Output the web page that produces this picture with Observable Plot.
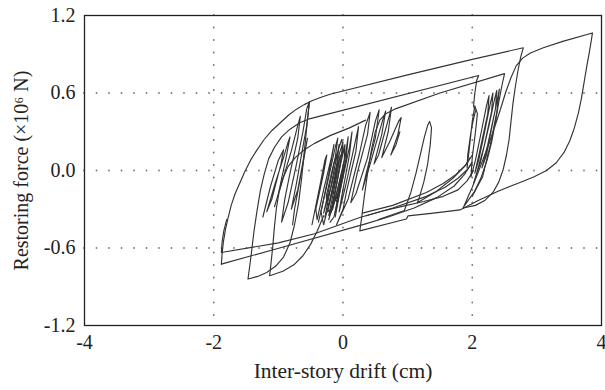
<!DOCTYPE html>
<html>
<head>
<meta charset="utf-8">
<script src="https://cdn.jsdelivr.net/npm/d3@7"></script>
<script src="https://cdn.jsdelivr.net/npm/@observablehq/plot@0.6"></script>
<style>
  html, body { margin: 0; padding: 0; background: #fff; }
  #chart svg, #chart svg text { font-family: "Liberation Serif", "DejaVu Serif", serif !important; }
  #chart g[aria-label="x-axis label"] text { font-size: 21.5px; }
</style>
</head>
<body>
<div id="chart"></div>
<script>
// Axis ticks
const xTicks = [-4, -2, 0, 2, 4];
const yTicks = [-1.2, -0.6, 0.0, 0.6, 1.2];
const xGrid = [-2, 0, 2];
const yGrid = [-0.6, 0.0, 0.6];

// Hysteresis branches: [drift (cm), restoring force (10^6 N)]
// Outer loop: negative backbone, upper branch to +2.8 cm, unloading
const envelopeCycle = [
  [-1.882,-0.725],[-1.87,-0.64],[-1.85,-0.55],[-1.82,-0.46],[-1.78,-0.37],[-1.73,-0.27],[-1.67,-0.18],
  [-1.60,-0.10],[-1.52,-0.01],[-1.43,0.08],[-1.33,0.16],[-1.22,0.24],[-1.10,0.31],[-0.97,0.37],
  [-0.84,0.43],[-0.72,0.475],[-0.60,0.51],[-0.48,0.54],[-0.35,0.565],[-0.20,0.59],[0.00,0.615],
  [1.00,0.74],[2.00,0.86],[2.79,0.95],
  [2.75,0.88],[2.71,0.78],[2.67,0.66],[2.63,0.52],[2.60,0.38],[2.57,0.24],[2.53,0.12],[2.48,0.01],
  [2.41,-0.09],[2.32,-0.17],[2.20,-0.23],[2.05,-0.27],[1.86,-0.29]
];
// Largest excursion to +3.9 cm, then back along the lower branch
const peakCycle = [
  [1.86,-0.29],[1.92,-0.22],[2.00,-0.13],[2.08,-0.03],[2.17,0.09],[2.26,0.21],[2.35,0.34],[2.44,0.48],
  [2.52,0.61],[2.60,0.72],[2.68,0.81],[2.78,0.87],[2.90,0.91],[3.10,0.95],[3.40,1.00],[3.86,1.065],
  [3.84,1.00],[3.81,0.91],[3.77,0.80],[3.73,0.68],[3.69,0.56],[3.64,0.44],[3.58,0.33],[3.51,0.23],
  [3.42,0.14],[3.30,0.06],[3.15,0.00],[2.95,-0.05],[2.70,-0.10],[2.40,-0.16],[2.10,-0.23],
  [1.81,-0.305],[1.40,-0.33],[1.006,-0.351],[0.995,-0.363],[0.98,-0.376],[0.26,-0.467],
  [0.29,-0.36],[0.33,-0.20],[0.38,-0.02],[0.44,0.16],[0.50,0.30],[0.57,0.39],[0.66,0.44],[0.80,0.475],
  [1.50,0.60],[2.50,0.75],
  [2.46,0.66],[2.41,0.53],[2.36,0.38],[2.30,0.22],[2.23,0.08],[2.14,-0.05],[2.04,-0.16],[1.86,-0.285]
];
// Second negative excursion (-1.47 cm) and its upper branch
const secondCycle = [
  [-0.52,0.53],[-0.56,0.34],[-0.60,0.14],[-0.64,-0.06],[-0.69,-0.26],[-0.75,-0.42],[-0.82,-0.56],
  [-0.92,-0.67],[-1.04,-0.74],[-1.18,-0.79],[-1.32,-0.82],[-1.47,-0.84],
  [-1.42,-0.65],[-1.38,-0.48],[-1.33,-0.31],[-1.28,-0.16],[-1.22,-0.03],[-1.15,0.09],[-1.06,0.18],
  [-0.95,0.26],[-0.82,0.32],[-0.67,0.37],[-0.52,0.40],[-0.40,0.415],[2.10,0.735],
  [2.07,0.70],[2.04,0.60],[2.02,0.50],[2.05,0.46],[2.02,0.40]
];
// Third negative excursion (-1.14 cm)
const thirdCycle = [
  [-0.30,-0.35],[-0.40,-0.47],[-0.50,-0.57],[-0.62,-0.66],[-0.76,-0.73],[-0.93,-0.78],[-1.135,-0.815],
  [-1.11,-0.70],[-1.085,-0.58],[-1.06,-0.43],[-1.03,-0.29],[-0.99,-0.17],[-0.93,-0.06],[-0.85,0.03],
  [-0.74,0.10],[-0.60,0.16],[-0.44,0.21],[-0.20,0.27],[0.10,0.33],[0.35,0.39]
];
// Lower branches returning to the -1.9 cm corners
const lowerBranchA = [
  [1.99,0.06],[1.88,-0.03],[1.72,-0.12],[1.45,-0.21],[1.10,-0.29],[0.70,-0.36],[0.336,-0.415],
  [-0.954,-0.596],[-1.882,-0.725]
];
const lowerBranchB = [
  [2.02,0.00],[1.92,-0.08],[1.78,-0.15],[1.55,-0.20],[1.25,-0.24],[0.90,-0.28],[0.60,-0.315],[0.26,-0.364],
  [-0.44,-0.49],[-1.00,-0.56],[-1.882,-0.635],[-1.87,-0.55],[-1.845,-0.47],[-1.80,-0.38]
];
// Reloading arcs towards the +2 cm cluster
const arcA = [[0.30,-0.33],[0.77,-0.27],[1.29,-0.17],[1.55,-0.10],[1.75,-0.03],[1.91,0.05],[2.00,0.12]];
const arcB = [[0.36,-0.35],[0.77,-0.29],[1.29,-0.20],[1.58,-0.13],[1.78,-0.06],[1.93,0.01],[2.00,0.06]];
const spike = [
  [0.55,-0.38],[0.95,-0.31],[1.05,-0.17],[1.13,-0.02],[1.20,0.13],[1.26,0.26],[1.31,0.35],[1.34,0.38],
  [1.37,0.33],[1.35,0.20],[1.31,0.05],[1.25,-0.09],[1.18,-0.21],[1.15,-0.25],[1.45,-0.16],[1.70,-0.06],[1.88,0.03],[1.97,0.10]
];
// Small cycles near -0.9 cm
const leftCluster = [
  [-1.24,-0.36],[-1.12,-0.12],[-1.00,0.08],[-0.92,0.16],[-0.96,0.05],[-1.10,-0.22],[-1.18,-0.32],
  [-1.05,-0.10],[-0.92,0.10],[-0.85,0.22],[-0.82,0.26],[-0.88,0.10],[-1.00,-0.18],[-1.06,-0.28],
  [-0.95,-0.10],[-0.80,0.15],[-0.70,0.35],[-0.66,0.42],[-0.70,0.25],[-0.82,-0.02],[-0.90,-0.22],
  [-0.95,-0.40],[-0.85,-0.25],[-0.72,0.05],[-0.62,0.30],[-0.56,0.48],[-0.52,0.53],[-0.56,0.35],
  [-0.65,0.10],[-0.72,-0.10],[-0.80,-0.30],[-0.70,-0.15],[-0.60,0.12],[-0.55,0.25],[-0.62,0.05],
  [-0.75,-0.30],[-0.78,-0.42]
];
// Small cycles around zero drift
const centerLeftCluster = [
  [-0.48,-0.42],[-0.35,-0.10],[-0.28,0.08],[-0.25,0.12],[-0.30,-0.02],[-0.42,-0.30],[-0.40,-0.38],
  [-0.30,-0.15],[-0.18,0.10],[-0.14,0.20],[-0.20,0.02],[-0.34,-0.32],[-0.30,-0.42],[-0.15,-0.12],
  [-0.06,0.08],[-0.10,-0.05],[-0.22,-0.35],[-0.16,-0.30],[-0.02,-0.02],[0.02,0.02],[-0.08,-0.25],[-0.12,-0.36]
];
const centerCore = [
  [-0.28,-0.36],[-0.12,0.05],[-0.06,0.20],[-0.10,0.02],[-0.22,-0.28],[-0.26,-0.20],[-0.14,0.06],
  [-0.02,0.24],[0.00,0.18],[-0.10,-0.10],[-0.20,-0.34],[-0.16,-0.26],[-0.06,0.00],[0.03,0.20],
  [0.02,0.08],[-0.08,-0.18],[-0.18,-0.30],[-0.24,-0.32],[-0.12,-0.08],[-0.04,0.12],[-0.08,0.04],
  [-0.16,-0.16],[-0.10,-0.24],[-0.02,-0.04],[0.04,0.06],[-0.04,-0.12],[-0.14,-0.36],[-0.20,-0.40]
];
const centerCluster = [
  [-0.38,-0.40],[-0.22,-0.05],[-0.12,0.18],[-0.08,0.25],[-0.12,0.10],[-0.25,-0.22],[-0.30,-0.33],
  [-0.18,-0.12],[-0.05,0.14],[0.00,0.22],[-0.04,0.05],[-0.15,-0.25],[-0.22,-0.38],[-0.10,-0.18],
  [0.03,0.10],[0.08,0.26],[0.05,0.10],[-0.08,-0.22],[-0.12,-0.33],[-0.02,-0.10],[0.10,0.18],
  [0.14,0.30],[0.10,0.12],[-0.02,-0.20],[-0.06,-0.32],[0.04,-0.12],[0.18,0.20],[0.24,0.34],
  [0.20,0.15],[0.06,-0.15],[0.00,-0.30],[-0.10,-0.42],[0.08,-0.22],[0.25,0.12],[0.35,0.35],
  [0.42,0.45],[0.38,0.28],[0.22,-0.02],[0.12,-0.25],[0.20,-0.18],[0.38,0.10],[0.50,0.38],
  [0.56,0.47],[0.50,0.25],[0.36,-0.02],[0.30,-0.15],[0.42,0.05],[0.62,0.40],[0.66,0.46],
  [0.60,0.28],[0.48,0.05],[0.55,0.12],[0.72,0.43],[0.75,0.49],[0.70,0.30],[0.60,0.10],
  [0.72,0.22],[0.86,0.38],[0.90,0.41],[0.85,0.28],[0.74,0.12],[0.82,0.20],[0.88,0.30]
];
// Small cycles near +2 cm
const rightCluster = [
  [2.02,0.40],[1.98,0.30],[1.93,0.12],[1.92,0.02],[1.95,0.15],[2.00,0.38],[2.04,0.50],[2.08,0.44],
  [2.05,0.30],[2.00,0.10],[1.98,-0.05],[2.05,0.08],[2.14,0.30],[2.22,0.50],[2.26,0.58],[2.24,0.44],
  [2.12,0.16],[2.04,-0.02],[2.10,0.08],[2.20,0.32],[2.28,0.52],[2.32,0.60],[2.30,0.46],[2.18,0.18],
  [2.08,0.00],[2.02,-0.10],[2.12,0.05],[2.26,0.35],[2.34,0.54],[2.38,0.62],[2.36,0.48],[2.24,0.20],
  [2.15,0.02],[2.22,0.12],[2.32,0.38],[2.40,0.58],[2.42,0.63],[2.38,0.45],[2.28,0.20],[2.16,-0.05],
  [2.05,-0.15],[2.00,-0.20]
];

const branches = [
  ["envelope", envelopeCycle], ["peak", peakCycle], ["second", secondCycle], ["third", thirdCycle],
  ["lowerA", lowerBranchA], ["lowerB", lowerBranchB], ["arcA", arcA], ["arcB", arcB], ["spike", spike],
  ["left", leftCluster], ["centerLeft", centerLeftCluster], ["centerCore", centerCore],
  ["center", centerCluster], ["right", rightCluster]
];
const rows = branches.flatMap(([name, pts]) => pts.map(([x, y]) => ({branch: name, x, y})));

const chart = Plot.plot({
  width: 605,
  height: 390,
  marginLeft: 84,
  marginRight: 4,
  marginTop: 15,
  marginBottom: 65,
  style: {fontFamily: "Liberation Serif", fontSize: "20px", color: "#222", background: "#fff"},
  x: {
    domain: [-4, 4], ticks: xTicks, tickSize: 0, tickPadding: 9,
    tickFormat: d => String(d),
    label: "Inter-story drift (cm)", labelAnchor: "center", labelArrow: "none", labelOffset: 52
  },
  y: {
    domain: [-1.2, 1.2], ticks: yTicks, tickSize: 0, tickPadding: 9,
    tickFormat: d => d.toFixed(1),
    label: "Restoring force (×10⁶ N)", labelAnchor: "center", labelArrow: "none", labelOffset: 71
  },
  marks: [
    Plot.ruleX(xGrid, {stroke: "#777", strokeWidth: 1.8, strokeLinecap: "round", strokeDasharray: "0,12.5"}),
    Plot.ruleY(yGrid, {stroke: "#777", strokeWidth: 1.8, strokeLinecap: "round", strokeDasharray: "0,12.5"}),
    Plot.line(rows, {x: "x", y: "y", z: "branch", stroke: "#333", strokeWidth: 1.15, strokeLinejoin: "round"}),
    Plot.frame({stroke: "#222", strokeWidth: 1.3})
  ]
});
document.getElementById("chart").appendChild(chart);
</script>
</body>
</html>
